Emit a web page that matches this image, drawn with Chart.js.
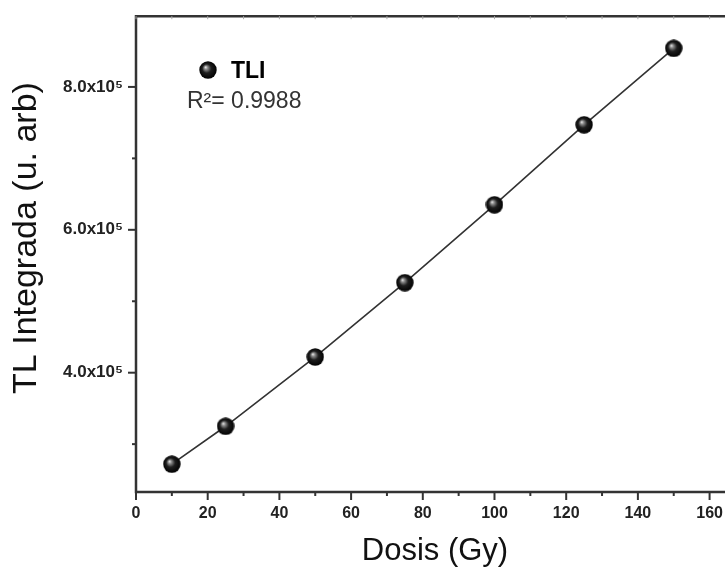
<!DOCTYPE html>
<html><head><meta charset="utf-8">
<script src="https://cdn.jsdelivr.net/npm/chart.js@4.4.0/dist/chart.umd.min.js"></script>
<style>html,body{margin:0;padding:0;background:#fff;overflow:hidden}#wrap{width:725px;height:570px}</style>
</head><body><div id="wrap"><canvas id="c" width="725" height="570"></canvas></div>
<script>
// ---- data ----
const doses = [10, 25, 50, 75, 100, 125, 150];
const tlValues = [2.72e5, 3.25e5, 4.22e5, 5.26e5, 6.35e5, 7.47e5, 8.54e5];
const seriesLabel = 'TLI';
const r2Text = 'R\u00B2= 0.9988';
const xTitle = 'Dosis (Gy)';
const yTitle = 'TL Integrada (u. arb)';
const xTickValues = [0, 10, 20, 30, 40, 50, 60, 70, 80, 90, 100, 110, 120, 130, 140, 150, 160];
const xTickLabels = ['0', '', '20', '', '40', '', '60', '', '80', '', '100', '', '120', '', '140', '', '160'];
const yTickValues = [3e5, 4e5, 5e5, 6e5, 7e5, 8e5];
const yTickLabels = ['', '4.0x10\u2075', '', '6.0x10\u2075', '', '8.0x10\u2075'];

function makeSphere(d) {
  const c = document.createElement('canvas');
  c.width = d; c.height = d;
  const g = c.getContext('2d');
  const r = d / 2;
  const grad = g.createRadialGradient(r * 0.72, r * 0.68, 0, r, r, r);
  grad.addColorStop(0, '#f2f2f2');
  grad.addColorStop(0.2, '#8a8a8a');
  grad.addColorStop(0.5, '#1e1e1e');
  grad.addColorStop(1, '#000');
  g.fillStyle = grad;
  g.beginPath(); g.arc(r, r, r - 0.3, 0, Math.PI * 2); g.fill();
  return c;
}
const sphere = makeSphere(18);

const framePlugin = {
  id: 'frame',
  beforeDatasetsDraw(chart) {
    const {ctx, chartArea: a} = chart;
    const W = chart.width;
    ctx.save();
    ctx.strokeStyle = '#333';
    ctx.lineWidth = 2.5;
    ctx.beginPath();
    ctx.moveTo(W, a.top); ctx.lineTo(a.left, a.top);
    ctx.lineTo(a.left, a.bottom); ctx.lineTo(W, a.bottom);
    ctx.stroke();
    const xs = chart.scales.x, ys = chart.scales.y;
    ctx.lineWidth = 2;
    xTickValues.forEach((v, i) => {
      const px = xs.getPixelForValue(v);
      const len = xTickLabels[i] ? 8 : 4;
      ctx.beginPath(); ctx.moveTo(px, a.bottom); ctx.lineTo(px, a.bottom + len); ctx.stroke();
    });
    yTickValues.forEach((v, i) => {
      const py = ys.getPixelForValue(v);
      const len = yTickLabels[i] ? 8 : 4;
      ctx.beginPath(); ctx.moveTo(a.left - len, py); ctx.lineTo(a.left, py); ctx.stroke();
    });
    ctx.strokeStyle = '#aaa'; ctx.lineWidth = 1;
    xTickValues.forEach((v) => {
      const px = xs.getPixelForValue(v);
      ctx.beginPath(); ctx.moveTo(px, a.top); ctx.lineTo(px, a.top + 3); ctx.stroke();
    });
    ctx.restore();
  },
  afterDraw(chart) {
    const {ctx} = chart;
    ctx.save();
    ctx.fillStyle = '#111';
    ctx.textAlign = 'center';
    ctx.textBaseline = 'middle';
    // x title
    ctx.font = '31px Arial, "Liberation Sans"';
    ctx.fillText(xTitle, 435, 551);
    // y title
    ctx.font = '34px Arial, "Liberation Sans"';
    ctx.translate(27, 238);
    ctx.rotate(-Math.PI / 2);
    ctx.fillText(yTitle, 0, 0);
    ctx.restore();
    // legend
    ctx.save();
    ctx.drawImage(sphere, 208 - 9, 70 - 9, 18, 18);
    ctx.fillStyle = '#000';
    ctx.font = 'bold 23px Arial, "Liberation Sans"';
    ctx.textAlign = 'left';
    ctx.textBaseline = 'alphabetic';
    ctx.fillText(chart.data.datasets[0].label, 231, 78);
    ctx.fillStyle = '#333';
    ctx.font = '23px Arial, "Liberation Sans"';
    ctx.fillText(r2Text, 187, 108);
    ctx.restore();
  }
};

new Chart(document.getElementById('c'), {
  type: 'scatter',
  data: {
    datasets: [{
      label: seriesLabel,
      data: doses.map((d, i) => ({x: d, y: tlValues[i]})),
      showLine: true,
      borderColor: '#333',
      borderWidth: 1.6,
      pointStyle: sphere,
      pointRadius: 9,
      pointHoverRadius: 9
    }]
  },
  options: {
    responsive: false,
    animation: false,
    devicePixelRatio: 1,
    layout: {autoPadding: false, padding: {top: 14, left: 0, right: 0, bottom: 0}},
    plugins: {legend: {display: false}, tooltip: {enabled: false}},
    scales: {
      x: {
        type: 'linear', position: 'bottom', bounds: 'data', min: 0, max: 164.3,
        afterBuildTicks: s => { s.ticks = xTickValues.map(v => ({value: v})); },
        afterFit: s => { s.height = 78; },
        ticks: {
          autoSkip: false, maxRotation: 0, padding: -20,
          callback: (v, i) => xTickLabels[i],
          color: '#222', font: {family: 'Arial, "Liberation Sans"', size: 16, weight: 'bold'}
        },
        grid: {display: true, drawOnChartArea: false, drawTicks: true, tickLength: 32, color: 'rgba(0,0,0,0)'},
        border: {display: false},
        title: {display: false}
      },
      y: {
        type: 'linear', position: 'left', bounds: 'data', min: 2.33e5, max: 8.99e5,
        afterBuildTicks: s => { s.ticks = yTickValues.map(v => ({value: v})); },
        afterFit: s => { s.width = 136; },
        ticks: {
          autoSkip: false, padding: 6,
          callback: (v, i) => yTickLabels[i],
          color: '#222', font: {family: 'Arial, "Liberation Sans"', size: 17, weight: 'bold'}
        },
        grid: {display: true, drawOnChartArea: false, drawTicks: true, tickLength: 7, color: 'rgba(0,0,0,0)'},
        border: {display: false}
      }
    }
  },
  plugins: [framePlugin]
});
</script>
</body></html>
